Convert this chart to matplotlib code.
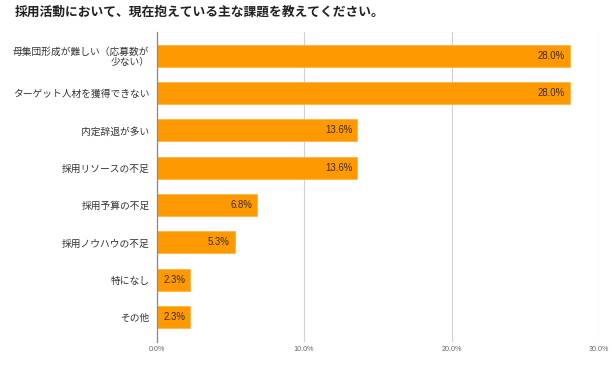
import matplotlib
matplotlib.use("Agg")
import matplotlib.pyplot as plt
from matplotlib.ticker import FuncFormatter, MultipleLocator

plt.rcParams['font.family'] = ['Noto Sans CJK JP', 'DejaVu Sans']

title = "採用活動において、現在抱えている主な課題を教えてください。"
categories = [
    "母集団形成が難しい（応募数が\n少ない）",
    "ターゲット人材を獲得できない",
    "内定辞退が多い",
    "採用リソースの不足",
    "採用予算の不足",
    "採用ノウハウの不足",
    "特になし",
    "その他",
]
values = [28.0, 28.0, 13.6, 13.6, 6.8, 5.3, 2.3, 2.3]

fig = plt.figure(figsize=(6.15, 3.68), dpi=100)
ax = fig.add_axes([0.2545, 0.0707, 0.7195, 0.8423])

y = list(range(len(categories)))
bars = ax.barh(y, values, height=0.59, color="#FF9900", edgecolor="#FFB347",
               linewidth=0.6, zorder=3)
ax.set_ylim(7.67, -0.64)
ax.set_xlim(0, 30)
ax.xaxis.set_major_locator(MultipleLocator(10))
ax.xaxis.set_major_formatter(FuncFormatter(lambda v, p: f"{v:.1f}%"))
ax.grid(axis='x', color="#d0d0d0", linewidth=0.8, zorder=0)
ax.set_yticks(y)
ax.set_yticklabels(categories, fontsize=7, color="#333333", linespacing=1.0)
ax.tick_params(axis='y', length=0, pad=5)
ax.tick_params(axis='x', length=0, labelsize=5.2, labelcolor="#666666", pad=3)
for lbl in ax.get_xticklabels():
    lbl.set_family(['Liberation Sans'])
for s in ['top', 'right', 'bottom']:
    ax.spines[s].set_visible(False)
ax.spines['left'].set_color("#888888")
ax.spines['left'].set_linewidth(0.9)
ax.spines['left'].set_zorder(4)

for b, v in zip(bars, values):
    ax.annotate(f"{v:.1f}%", xy=(v, b.get_y() + b.get_height() / 2),
                xytext=(-3.5, 0), textcoords="offset points",
                ha="right", va="center", fontsize=6.9, color="#3a2a10",
                family=['Liberation Sans'], zorder=5)

fig.text(15 / 615, 1 - 12 / 368, title, fontsize=9.2, fontweight="bold",
         color="#222222", ha="left", va="center")

fig.savefig("out.png", dpi=100)
